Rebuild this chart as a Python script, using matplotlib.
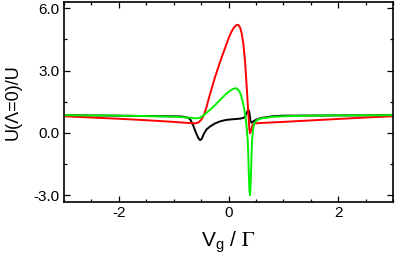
import matplotlib
matplotlib.use("Agg")
import matplotlib.pyplot as plt
from matplotlib.ticker import MultipleLocator, FixedLocator, FixedFormatter

plt.rcParams['font.family'] = ['Liberation Sans', 'DejaVu Sans']
plt.rcParams['axes.unicode_minus'] = False
plt.rcParams['mathtext.fontset'] = 'stix'

red_x = [-3, -2.5, -2, -1.5, -1.0, -0.8, -0.7, -0.6, -0.55, -0.5, -0.45, -0.4, -0.35, -0.3,
         -0.25, -0.2, -0.15, -0.1, -0.05, 0.0, 0.05, 0.1, 0.15, 0.18, 0.21, 0.24, 0.27, 0.3,
         0.33, 0.36, 0.38, 0.39, 0.41, 0.44, 0.48, 0.55, 0.7, 1.0, 1.5, 2.0, 2.5, 3.0]
red_y = [0.80, 0.74, 0.68, 0.61, 0.53, 0.49, 0.47, 0.46, 0.50, 0.62, 0.85, 1.25, 1.75, 2.2,
         2.65, 3.05, 3.45, 3.82, 4.18, 4.55, 4.85, 5.08, 5.20, 5.20, 5.08, 4.80, 4.30, 3.50,
         2.30, 1.00, 0.20, -0.02, 0.10, 0.38, 0.45, 0.47, 0.49, 0.53, 0.60, 0.67, 0.74, 0.80]

green_x = [-3, -2, -1.5, -1.0, -0.8, -0.6, -0.55, -0.5, -0.45, -0.4, -0.35, -0.3, -0.25,
           -0.2, -0.15, -0.1, -0.05, 0.0, 0.05, 0.1, 0.13, 0.16, 0.2, 0.23, 0.26, 0.29, 0.31,
           0.33, 0.35, 0.36, 0.37, 0.38, 0.39, 0.40, 0.41, 0.42, 0.43, 0.45, 0.47, 0.52, 0.6,
           0.8, 1.0, 1.5, 2.0, 3.0]
green_y = [0.85, 0.83, 0.81, 0.78, 0.75, 0.70, 0.71, 0.76, 0.86, 0.97, 1.08, 1.20, 1.33,
           1.46, 1.60, 1.73, 1.86, 1.97, 2.07, 2.13, 2.15, 2.12, 2.00, 1.80, 1.49, 1.10, 0.77,
           0.30, -0.35, -1.0, -1.95, -2.7, -3.0, -2.7, -1.95, -1.1, -0.35, 0.20, 0.45, 0.62,
           0.70, 0.77, 0.80, 0.83, 0.84, 0.85]

black_x = [-3, -2, -1.5, -1.0, -0.85, -0.75, -0.7, -0.65, -0.6, -0.55, -0.52, -0.49, -0.45,
           -0.4, -0.34, -0.25, -0.16, -0.05, 0.05, 0.15, 0.22, 0.27, 0.30, 0.33, 0.36, 0.38,
           0.40, 0.42, 0.45, 0.5, 0.6, 0.8, 1.0, 2.0, 3.0]
black_y = [0.85, 0.83, 0.81, 0.80, 0.79, 0.74, 0.66, 0.40, 0.05, -0.25, -0.35, -0.30, -0.05,
           0.17, 0.30, 0.45, 0.55, 0.62, 0.65, 0.67, 0.69, 0.72, 0.78, 0.95, 1.12, 1.0,
           0.6, 0.48, 0.55, 0.63, 0.72, 0.80, 0.83, 0.84, 0.85]

y_ticks = [-3.0, 0.0, 3.0, 6.0]
y_tick_labels = ["-3.0", "0.0", "3.0", "6.0"]
x_ticks = [-2, 0, 2]
x_tick_labels = ["-2", "0", "2"]

fig = plt.figure(figsize=(3.95, 2.62), dpi=100)
ax = fig.add_axes([0.162, 0.229, 0.833, 0.763])

ax.plot(black_x, black_y, color='black', lw=1.4)
ax.plot(red_x, red_y, color='#ff0000', lw=1.4)
ax.plot(green_x, green_y, color='#00f000', lw=1.4)

ax.set_xlim(-3, 3)
ax.set_ylim(-3.33, 6.3)
ax.xaxis.set_major_locator(FixedLocator(x_ticks))
ax.xaxis.set_major_formatter(FixedFormatter(x_tick_labels))
ax.xaxis.set_minor_locator(MultipleLocator(0.5))
ax.yaxis.set_major_locator(FixedLocator(y_ticks))
ax.yaxis.set_major_formatter(FixedFormatter(y_tick_labels))
ax.yaxis.set_minor_locator(MultipleLocator(1.5))

ax.tick_params(which='both', direction='in', top=True, right=True, width=0.9,
               labelsize=11, pad=3)
ax.tick_params(which='major', length=4.2)
ax.tick_params(which='minor', length=2.2)
for s in ax.spines.values():
    s.set_linewidth(1.2)

ax.set_ylabel("U(Λ=0)/U", fontsize=13, labelpad=9)
ax.set_xlabel(r"$\mathregular{V_g}$ / $\Gamma$", fontsize=15, labelpad=7)

fig.savefig("out.png", dpi=100)
